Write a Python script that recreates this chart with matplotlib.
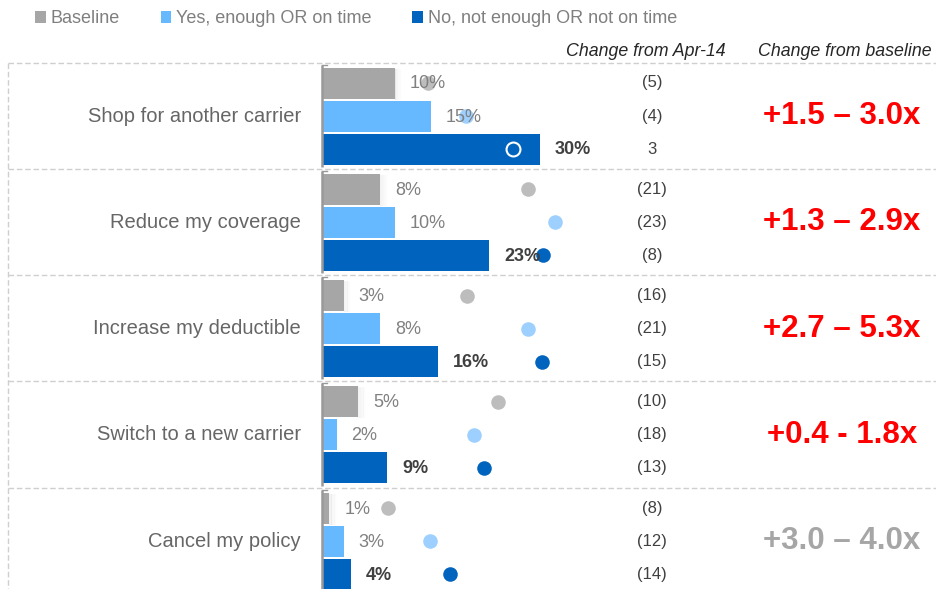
import matplotlib.pyplot as plt
from matplotlib.patches import Patch

plt.rcParams["font.family"] = ["Liberation Sans", "DejaVu Sans"]

# survey answers, share of respondents (%)
actions = [
    "Shop for another carrier",
    "Reduce my coverage",
    "Increase my deductible",
    "Switch to a new carrier",
    "Cancel my policy",
]
series = ["Baseline", "Yes, enough OR on time", "No, not enough OR not on time"]
baseline = [10, 8, 3, 5, 1]
yes_on_time = [15, 10, 8, 2, 3]
not_on_time = [30, 23, 16, 9, 4]

# Apr-14 wave, shown as dots
apr14_baseline = [14.6, 28.3, 20.0, 24.2, 9.1]
apr14_yes = [19.8, 32.0, 28.3, 20.9, 14.9]
apr14_not = [26.3, 30.4, 30.3, 22.3, 17.6]

change_baseline = ["(5)", "(21)", "(16)", "(10)", "(8)"]
change_yes = ["(4)", "(23)", "(21)", "(18)", "(12)"]
change_not = ["3", "(8)", "(15)", "(13)", "(14)"]

multiplier = ["+1.5 \u2013 3.0x", "+1.3 \u2013 2.9x", "+2.7 \u2013 5.3x",
              "+0.4 - 1.8x", "+3.0 \u2013 4.0x"]
highlight = [True, True, True, True, False]

bar_colors = ["#A6A6A6", "#66B8FF", "#0064BE"]
dot_colors = ["#BDBDBD", "#9DD0FF", "#0064BE"]

W, H = 937, 589
X0, SCALE = 322, 7.27          # pixel of 0% and pixels per percent
TOP, STEP, SLOT = 116, 106.3, 33


def x_of(px):
    return (px - X0) / SCALE


fig = plt.figure(figsize=(W / 100, H / 100), dpi=100)
ax = fig.add_axes([0, 0, 1, 1])
ax.set_xlim(x_of(0), x_of(W))
ax.set_ylim(H, 0)
ax.axis("off")

values = [baseline, yes_on_time, not_on_time]
apr = [apr14_baseline, apr14_yes, apr14_not]
changes = [change_baseline, change_yes, change_not]

for g, name in enumerate(actions):
    yc = TOP + g * STEP
    top_edge = yc - 1.62 * SLOT

    # dashed frame line between groups
    ax.plot([x_of(8), x_of(W)], [top_edge, top_edge], color="#CFCFCF",
            lw=1, ls=(0, (4, 2)), zorder=1)
    # axis bracket
    ax.plot([0, 0], [top_edge + 2, top_edge + STEP - 2], color="#999999",
            lw=1.8, zorder=4, solid_capstyle="butt")
    ax.plot([0, x_of(X0 + 5)], [top_edge + 2, top_edge + 2], color="#999999",
            lw=1, zorder=4)

    ax.text(x_of(301), yc, name, ha="right", va="center", fontsize=14.5,
            color="#666666")

    for s in range(3):
        y = yc + (s - 1) * SLOT
        v = values[s][g]
        if s == 0:
            # soft shadow to the right of the grey bars
            for k in range(10):
                ax.barh(y + 1, 0.12, height=31, left=v + k * 0.1,
                        color="#000000", alpha=0.05 * (1 - k / 10), lw=0,
                        zorder=2)
        ax.barh(y, v, height=31, color=bar_colors[s], zorder=3, lw=0)
        bold = s == 2
        ax.text(v + x_of(X0 + 15), y + 1, f"{v}%", ha="left", va="center",
                fontsize=13, color="#404040" if bold else "#808080",
                fontweight="bold" if bold else "normal", zorder=6)
        a = apr[s][g]
        if a < v:
            ax.scatter(a, y, s=100, facecolor=bar_colors[s],
                       edgecolor="white", lw=1.5, zorder=5)
        else:
            ax.scatter(a, y, s=110, color=dot_colors[s], lw=0, zorder=5)
        ax.text(x_of(652), y, changes[s][g], ha="center", va="center",
                fontsize=12, color="#404040")

    ax.text(x_of(842), yc, multiplier[g], ha="center", va="center",
            fontsize=22.5, fontweight="bold",
            color="#FF0000" if highlight[g] else "#A6A6A6")

ax.plot([x_of(8), x_of(8)], [TOP - 1.62 * SLOT, H], color="#CFCFCF",
        lw=1, ls=(0, (4, 2)), zorder=1)

ax.text(x_of(646), 52, "Change from Apr-14", ha="center", va="center",
        fontsize=12.8, style="italic", color="#262626")
ax.text(x_of(845), 52, "Change from baseline", ha="center", va="center",
        fontsize=12.8, style="italic", color="#262626")

handles = [Patch(facecolor=c, edgecolor="none") for c in bar_colors]
leg = ax.legend(handles, series, loc="upper left", ncol=3, frameon=False,
                bbox_to_anchor=(0.02, 1.01), fontsize=13, handlelength=0.6,
                handleheight=0.6, handletextpad=0.25, columnspacing=2.27)
for t in leg.get_texts():
    t.set_color("#7F7F7F")

fig.savefig("out.png", dpi=100)
